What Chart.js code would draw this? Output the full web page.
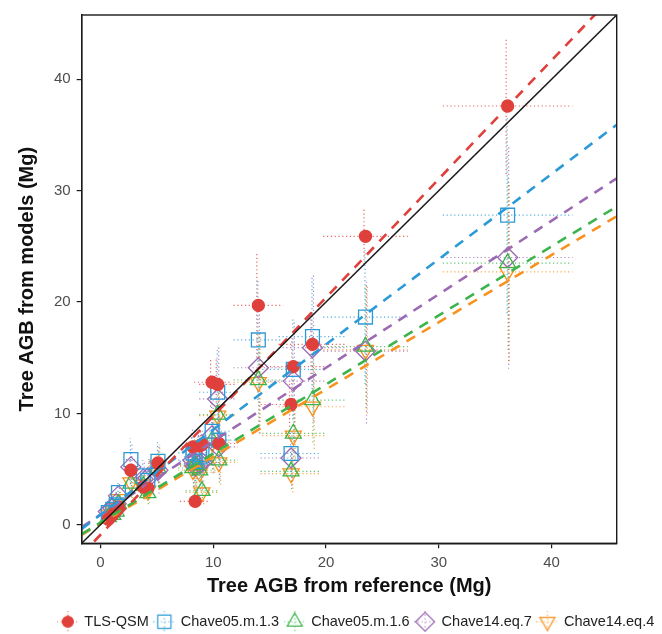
<!DOCTYPE html>
<html><head><meta charset="utf-8">
<script src="https://cdn.jsdelivr.net/npm/chart.js@4.4.1/dist/chart.umd.min.js"></script>
<style>html,body{margin:0;padding:0;background:#fff}#wrap{width:662px;height:634px;position:relative}</style>
</head><body><div id="wrap"><canvas id="c" width="662" height="634"></canvas></div>
<script>
// ---------- DATA ----------
const seriesNames = ['TLS-QSM', 'Chave05.m.1.3', 'Chave05.m.1.6', 'Chave14.eq.7', 'Chave14.eq.4'];
// reference AGB per tree (x) and its uncertainty (half width)
const treeRef    = [0.7, 1.1, 1.4, 1.6, 2.7, 3.8, 4.2, 5.1, 8.2, 8.4, 8.8, 9.0, 9.9, 10.4, 10.5, 14.0, 17.1, 16.9, 18.8, 23.5, 36.1];
const treeRefErr = [0.11, 0.18, 0.22, 0.26, 0.43, 0.6, 0.67, 0.82, 1.3, 1.35, 1.4, 1.45, 1.6, 1.65, 1.7, 2.2, 2.75, 2.7, 3.0, 3.75, 5.75];
// model AGB per tree and uncertainty
const tlsQsm        = [0.5, 0.9, 1.3, 1.6, 4.9, 3.4, 3.3, 5.55, 7.0, 2.1, 7.1, 7.2, 12.8, 12.6, 7.3, 19.7, 14.2, 10.8, 16.2, 25.9, 37.6];
const tlsQsmErr     = [0.1, 0.2, 0.25, 0.3, 0.9, 0.6, 0.6, 1.0, 1.3, 0.4, 1.3, 1.3, 2.2, 2.3, 1.3, 4.7, 2.6, 2.0, 3.0, 2.5, 6.1];
const chave05m13    = [1.1, 1.4, 1.8, 2.9, 5.85, 4.4, 4.0, 5.7, 6.45, 5.7, 6.1, 6.3, 8.4, 11.9, 7.6, 16.6, 13.95, 6.4, 16.9, 18.65, 27.8];
const chave05m13Err = [0.35, 0.45, 0.6, 0.95, 1.9, 1.4, 1.3, 1.8, 2.1, 1.8, 2.0, 2.0, 2.7, 3.8, 2.4, 5.4, 4.5, 2.0, 5.4, 6.0, 8.8];
const chave05m16    = [0.7, 0.9, 1.2, 1.9, 3.7, 3.5, 2.85, 5.1, 5.1, 5.4, 4.9, 3.05, 7.6, 9.9, 5.8, 13.0, 8.2, 4.8, 11.2, 16.0, 23.5];
const chave05m16Err = [0.25, 0.3, 0.4, 0.65, 1.25, 1.2, 1.0, 1.7, 1.7, 1.8, 1.7, 1.0, 2.6, 3.4, 2.0, 4.4, 2.8, 1.6, 3.8, 5.5, 7.8];
const chave14eq7    = [1.2, 1.5, 1.9, 2.6, 5.2, 4.1, 4.2, 4.9, 5.8, 5.3, 5.5, 5.6, 8.0, 11.3, 7.0, 14.1, 12.9, 6.0, 15.9, 15.6, 24.0];
const chave14eq7Err = [0.5, 0.6, 0.8, 1.1, 2.2, 1.7, 1.8, 2.1, 2.4, 2.2, 2.3, 2.4, 3.4, 4.7, 2.9, 5.9, 5.4, 2.5, 6.6, 6.5, 10.0];
const chave14eq4    = [0.9, 1.2, 1.5, 2.3, 3.8, 3.6, 3.05, 5.3, 4.9, 5.3, 4.7, 2.9, 7.4, 9.8, 5.6, 12.8, 8.0, 4.6, 10.6, 15.7, 22.7];
const chave14eq4Err = [0.3, 0.45, 0.55, 0.8, 1.4, 1.3, 1.1, 1.9, 1.8, 1.9, 1.7, 1.05, 2.7, 3.5, 2.0, 4.6, 2.9, 1.7, 3.8, 5.7, 8.0];
// fitted linear trend per model
const fitIntercept = [-0.9, 0.9, 0.2, 0.9, 0.1];
const fitSlope     = [1.065, 0.765, 0.62, 0.66, 0.603];
// axes
const axisMin = -1.66, axisMax = 45.77;
const tickValues = [0, 10, 20, 30, 40];
const xTitle = 'Tree AGB from reference (Mg)';
const yTitle = 'Tree AGB from models (Mg)';

// ---------- STYLE ----------
const colors   = ['#e0403b', '#2d9ad8', '#3cb44b', '#9c6ab3', '#f7921f'];
const barCols  = ['rgba(224,64,59,0.8)', 'rgba(45,154,216,0.8)', 'rgba(60,180,75,0.8)', 'rgba(156,106,179,0.8)', 'rgba(247,146,31,0.8)'];
const pStyles  = ['circle', 'rect', 'triangle', 'rectRot', 'triangle'];
const pRot     = [0, 0, 0, 0, 180];
const pRad     = [6, 9.8, 9.2, 10, 9.2];
const barDx    = [-1.5, -0.5, 0.5, 1, 1.8];

const values = [tlsQsm, chave05m13, chave05m16, chave14eq7, chave14eq4];
const errs   = [tlsQsmErr, chave05m13Err, chave05m16Err, chave14eq7Err, chave14eq4Err];

Chart.defaults.font.family = '"Liberation Sans", Arial, Helvetica, sans-serif';

function legendIcon(i) {
  const cv = document.createElement('canvas');
  cv.width = 22; cv.height = 22;
  const c = cv.getContext('2d');
  c.strokeStyle = barCols[i]; c.lineWidth = 1.2; c.setLineDash([1.2, 2.6]);
  c.beginPath(); c.moveTo(0, 11); c.lineTo(22, 11); c.moveTo(11, 0); c.lineTo(11, 22); c.stroke();
  c.setLineDash([]);
  c.strokeStyle = colors[i];
  c.fillStyle = i === 0 ? colors[i] : 'rgba(0,0,0,0)';
  Chart.helpers.drawPoint(c, {pointStyle: pStyles[i], rotation: pRot[i], radius: i === 0 ? 5.5 : pRad[i] * 0.95, borderWidth: 1.3}, 11, 11);
  return cv;
}
const icons = seriesNames.map((n, i) => legendIcon(i));

const datasets = [];
seriesNames.forEach((name, i) => {
  datasets.push({
    label: name, type: 'scatter',
    data: treeRef.map((x, k) => ({x: x, y: values[i][k]})),
    pointStyle: pStyles[i], pointRotation: pRot[i], pointRadius: pRad[i], pointHoverRadius: pRad[i],
    borderColor: colors[i], backgroundColor: i === 0 ? colors[i] : 'rgba(0,0,0,0)', borderWidth: 1.3,
    order: 3
  });
});
seriesNames.forEach((name, i) => {
  datasets.push({
    label: name + ' fit', type: 'line',
    data: [{x: axisMin, y: fitIntercept[i] + fitSlope[i] * axisMin}, {x: axisMax, y: fitIntercept[i] + fitSlope[i] * axisMax}],
    borderColor: colors[i], borderWidth: 2.6, borderDash: [10, 8], pointRadius: 0, fill: false, order: 2
  });
});
datasets.push({
  label: '1:1', type: 'line',
  data: [{x: axisMin, y: axisMin}, {x: axisMax, y: axisMax}],
  borderColor: '#1a1a1a', borderWidth: 1.5, pointRadius: 0, fill: false, order: 1
});

const errorBars = {
  id: 'errorBars',
  beforeDatasetsDraw(chart) {
    const {ctx, chartArea: a, scales: {x, y}} = chart;
    ctx.save();
    ctx.beginPath(); ctx.rect(a.left, a.top, a.right - a.left, a.bottom - a.top); ctx.clip();
    ctx.lineWidth = 1.2; ctx.setLineDash([1.2, 2.6]);
    values.forEach((vals, s) => {
      ctx.strokeStyle = barCols[s];
      treeRef.forEach((xv, k) => {
        const py = y.getPixelForValue(vals[k]);
        const px = x.getPixelForValue(xv) + barDx[s];
        ctx.beginPath();
        ctx.moveTo(x.getPixelForValue(xv - treeRefErr[k]), py);
        ctx.lineTo(x.getPixelForValue(xv + treeRefErr[k]), py);
        ctx.stroke();
        ctx.beginPath();
        ctx.moveTo(px, y.getPixelForValue(vals[k] - errs[s][k]));
        ctx.lineTo(px, y.getPixelForValue(vals[k] + errs[s][k]));
        ctx.stroke();
      });
    });
    ctx.restore();
  },
  afterDraw(chart) {
    const {ctx, chartArea: a} = chart;
    ctx.save();
    ctx.strokeStyle = '#1a1a1a'; ctx.lineWidth = 1.4;
    ctx.strokeRect(a.left, a.top, a.right - a.left, a.bottom - a.top);
    ctx.restore();
  }
};

const PAD_L = 33.4, PAD_R = -17.4, PAD_B = -5;
const AREA_L = 81.7, AREA_R = 616.7, AREA_B = 543.3;

new Chart(document.getElementById('c'), {
  type: 'scatter',
  data: {datasets: datasets},
  plugins: [errorBars],
  options: {
    responsive: false, animation: false, devicePixelRatio: 1,
    layout: {padding: {left: PAD_L, right: PAD_R, top: 9, bottom: PAD_B}},
    plugins: {
      tooltip: {enabled: false},
      legend: {
        position: 'bottom',
        labels: {
          usePointStyle: true, pointStyleWidth: 18.5, boxHeight: 14.5, padding: 6.3,
          color: '#222', font: {size: 14.5},
          generateLabels: () => seriesNames.map((n, i) => ({
            text: n, pointStyle: icons[i], fillStyle: 'rgba(0,0,0,0)', strokeStyle: 'rgba(0,0,0,0)',
            lineWidth: 0, hidden: false, datasetIndex: i, fontColor: '#222'
          }))
        }
      }
    },
    scales: {
      x: {
        type: 'linear', min: axisMin, max: axisMax,
        afterBuildTicks: s => { s.ticks = tickValues.map(v => ({value: v})); },
        afterFit: s => { s.height = 634 - PAD_B - s.chart.legend.height - AREA_B; },
        ticks: {color: '#4d4d4d', font: {size: 15}, padding: 6},
        grid: {display: true, drawOnChartArea: false, drawTicks: true, tickLength: 5, color: '#1a1a1a', lineWidth: 1.2},
        border: {display: true, color: '#1a1a1a', width: 1.4},
        title: {display: true, text: xTitle, color: '#111', font: {size: 20, weight: 'bold'}, padding: {top: 2, bottom: 10}}
      },
      y: {
        type: 'linear', min: axisMin, max: axisMax,
        afterBuildTicks: s => { s.ticks = tickValues.map(v => ({value: v})); },
        afterFit: s => { s.width = AREA_L - PAD_L; },
        ticks: {color: '#4d4d4d', font: {size: 15}, padding: 6},
        grid: {display: true, drawOnChartArea: false, drawTicks: true, tickLength: 5, color: '#1a1a1a', lineWidth: 1.2},
        border: {display: true, color: '#1a1a1a', width: 1.4},
        title: {display: true, text: yTitle, color: '#111', font: {size: 20, weight: 'bold'}, padding: {top: -18.4, bottom: 0}}
      },
      yR: {
        type: 'linear', position: 'right', display: true, min: 0, max: 1,
        afterFit: s => { s.width = 662 - PAD_R - AREA_R; },
        ticks: {display: false}, grid: {display: false}, border: {display: false}
      }
    }
  }
});
</script></body></html>
